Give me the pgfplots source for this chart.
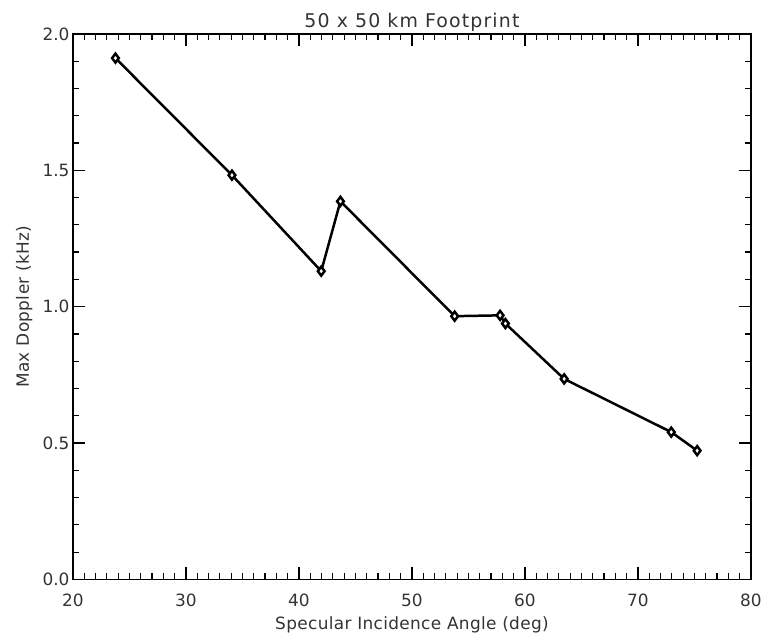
\documentclass[border=0pt]{standalone}
\usepackage{fontspec}
\setmainfont{DejaVu Sans}
\usepackage{pgfplots}
\pgfplotsset{compat=1.18}
\begin{document}
\begin{tikzpicture}
\begin{axis}[
  scale only axis,
  width=681bp, height=548bp,
  xmin=20, xmax=80, ymin=0, ymax=2.0,
  xtick={20,30,...,80},
  ytick={0,0.5,1.0,1.5,2.0},
  minor x tick num=9,
  minor y tick num=4,
  tick pos=both,
  tick align=inside,
  major tick length=12bp,
  minor tick length=6bp,
  axis line style={line width=1.5bp},
  every tick/.style={black, line width=1.2bp},
  /pgf/number format/assume math mode=true,
  yticklabel style={/pgf/number format/.cd, fixed, fixed zerofill, precision=1},
  tick label style={font=\fontsize{17bp}{20bp}\selectfont, text=black!80},
  xticklabel style={anchor=base, yshift=-27bp},
  title={\addfontfeature{LetterSpace=6}50 x 50 km Footprint},
  title style={at={(axis description cs:0.5,1.0)}, anchor=base, font=\fontsize{19bp}{22bp}\selectfont, text=black!80},
  xlabel={\addfontfeature{LetterSpace=2}Specular Incidence Angle (deg)},
  xlabel style={at={(axis description cs:0.5,-0.083)}, anchor=center, font=\fontsize{17bp}{20bp}\selectfont, text=black!80},
  ylabel={\addfontfeature{LetterSpace=2}Max Doppler (kHz)},
  ylabel style={at={(axis description cs:-0.072,0.5)}, anchor=center, rotate=0, font=\fontsize{17bp}{20bp}\selectfont, text=black!80},
]
\addplot[black, line width=2.5bp, mark=diamond*, mark size=4.5bp,
  mark options={solid, fill=white, draw=black, line width=2.5bp}]
  coordinates {
  (23.76,1.911)
  (34.07,1.482)
  (41.97,1.130)
  (43.67,1.386)
  (53.78,0.965)
  (57.80,0.968)
  (58.27,0.938)
  (63.47,0.735)
  (72.95,0.540)
  (75.24,0.472)
  };
\end{axis}
\useasboundingbox (-73.3bp,-51bp) rectangle (691.7bp,582bp);
\end{tikzpicture}
\end{document}
